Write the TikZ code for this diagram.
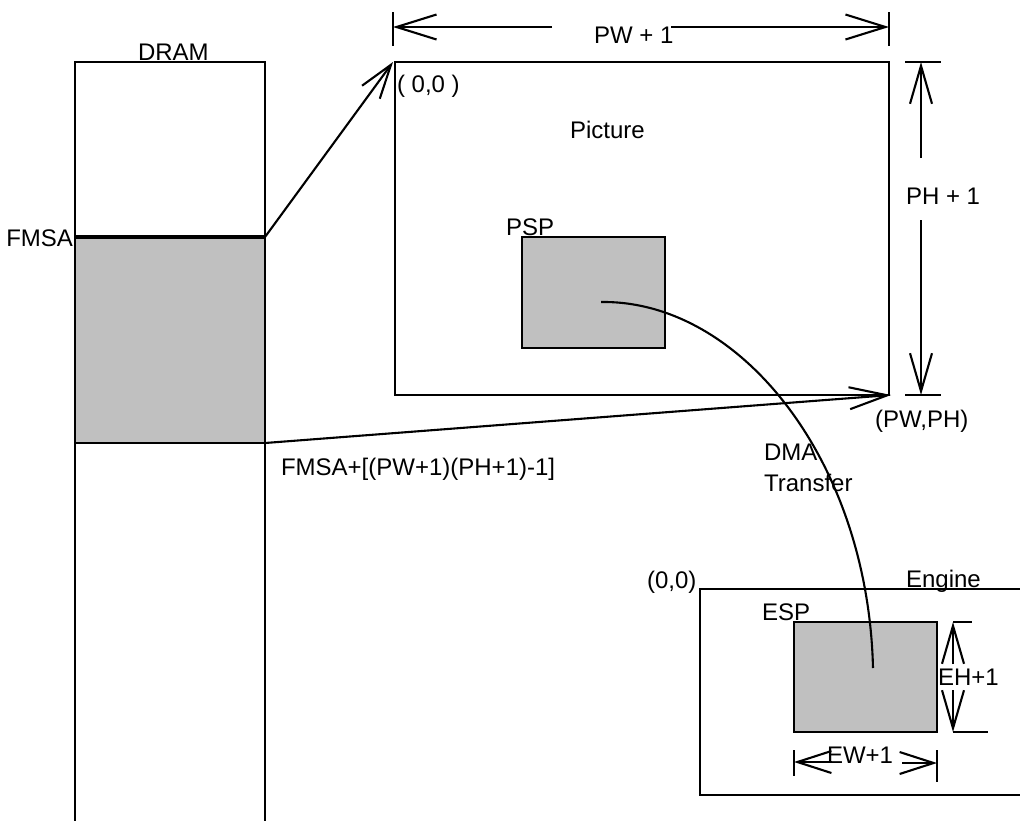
\documentclass[tikz,border=0pt]{standalone}
\usepackage{fontspec}
\setmainfont{Liberation Sans}
\usetikzlibrary{arrows.meta}
\definecolor{shade}{HTML}{C0C0C0}
\begin{document}
\begin{tikzpicture}[x=1pt,y=-1pt,line width=2.1pt,
  lbl/.style={inner sep=0pt,anchor=base west,font=\fontsize{24}{28}\selectfont},
  box/.style={draw,rectangle,inner sep=0pt,outer sep=0pt,anchor=north west},
  graybox/.style={box,fill=shade},
  bigbarb/.style={-{Straight Barb[length=40pt,width=25pt]}},
  midbarb/.style={-{Straight Barb[length=38pt,width=22pt]}},
  smallbarb/.style={-{Straight Barb[length=34pt,width=22pt]}}]
\useasboundingbox (0,0) rectangle (1020,820);
% DRAM column
\coordinate (dramBL) at (75,821);
\coordinate (dramTL) at (75,62);
\coordinate (dramTR) at (265,62);
\coordinate (dramBR) at (265,821);
\draw (dramBL) -- (dramTL) -- (dramTR) -- (dramBR);
\node[graybox,minimum width=190pt,minimum height=206pt] (fmsa) at (75,237) {};
\draw[line width=4pt] (fmsa.north west) -- (fmsa.north east);
\node[lbl] (dramlbl) at (137,60) {DRAM};
\node[lbl,anchor=base east] (fmsalbl) at (74,246) {FMSA};
\node[lbl] (endlbl) at (280,475) {FMSA+[(PW+1)(PH+1)-1]};
% Picture
\node[box,minimum width=494pt,minimum height=333pt] (pic) at (395,62) {};
\node[graybox,minimum width=143pt,minimum height=111pt] (psp) at (522,237) {};
\node[lbl] (orig) at (396,92) {( 0,0 )};
\node[lbl] (piclbl) at (569,138) {Picture};
\node[lbl] (psplbl) at (505,235) {PSP};
\node[lbl] (pwph) at (874,427) {(PW,PH)};
% mapping arrows
\coordinate (picTip) at (393,62);
\coordinate (picEnd) at (891,395);
\draw[smallbarb] (fmsa.north east) -- (picTip);
\draw[midbarb] (fmsa.south east) -- (picEnd);
% PW + 1
\coordinate (pwLt) at (393,12); \coordinate (pwLb) at (393,46);
\coordinate (pwRt) at (889,12); \coordinate (pwRb) at (889,46);
\draw (pwLt) -- (pwLb);
\draw (pwRt) -- (pwRb);
\coordinate (pwL) at (393,27); \coordinate (pwR) at (889,27);
\coordinate (pwLs) at (552,27); \coordinate (pwRs) at (671,27);
\draw[bigbarb] (pwLs) -- (pwL);
\draw[bigbarb] (pwRs) -- (pwR);
\node[lbl] (pwlbl) at (593,43) {PW + 1};
% PH + 1
\coordinate (phTl) at (905,62); \coordinate (phTr) at (941,62);
\coordinate (phBl) at (905,395); \coordinate (phBr) at (941,395);
\draw (phTl) -- (phTr);
\draw (phBl) -- (phBr);
\coordinate (phT) at (921,62); \coordinate (phB) at (921,395);
\coordinate (phTs) at (921,158); \coordinate (phBs) at (921,220);
\draw[midbarb] (phTs) -- (phT);
\draw[midbarb] (phBs) -- (phB);
\node[lbl] (phlbl) at (905,204) {PH + 1};
% Engine
\coordinate (engTR) at (1021,589);
\coordinate (engTL) at (700,589);
\coordinate (engBL) at (700,795);
\coordinate (engBR) at (1021,795);
\draw (engTR) -- (engTL) -- (engBL) -- (engBR);
\node[graybox,minimum width=143pt,minimum height=110pt] (esp) at (794,622) {};
\node[lbl] (eorig) at (646,588) {(0,0)};
\node[lbl] (englbl) at (905,587) {Engine};
\node[lbl] (esplbl) at (761,620) {ESP};
% EH + 1
\coordinate (ehT) at (953,622); \coordinate (ehB) at (953,732);
\coordinate (ehTr) at (972,622); \coordinate (ehBr) at (988,732);
\draw (ehT) -- (ehTr);
\draw (ehB) -- (ehBr);
\coordinate (ehTs) at (953,664); \coordinate (ehBs) at (953,690);
\draw[midbarb] (ehTs) -- (ehT);
\draw[midbarb] (ehBs) -- (ehB);
\node[lbl] (ehlbl) at (937,685) {EH+1};
% EW + 1
\coordinate (ewLt) at (794,750); \coordinate (ewLb) at (794,776);
\coordinate (ewRt) at (937,750); \coordinate (ewRb) at (937,782);
\draw (ewLt) -- (ewLb);
\draw (ewRt) -- (ewRb);
\coordinate (ewL) at (794,762); \coordinate (ewR) at (937,763);
\coordinate (ewLs) at (832,762); \coordinate (ewRs) at (902,763);
\draw[smallbarb] (ewLs) -- (ewL);
\draw[smallbarb] (ewRs) -- (ewR);
\node[lbl] (ewlbl) at (826,763) {EW+1};
% DMA transfer
\coordinate (dmaS) at (601,302);
\coordinate (dmaE) at (873,668);
\draw (dmaS) .. controls (740,300) and (868,460) .. (dmaE);
\node[lbl] (dmalbl) at (763,460) {DMA};
\node[lbl] (trlbl) at (763,491) {Transfer};
\end{tikzpicture}
\end{document}
